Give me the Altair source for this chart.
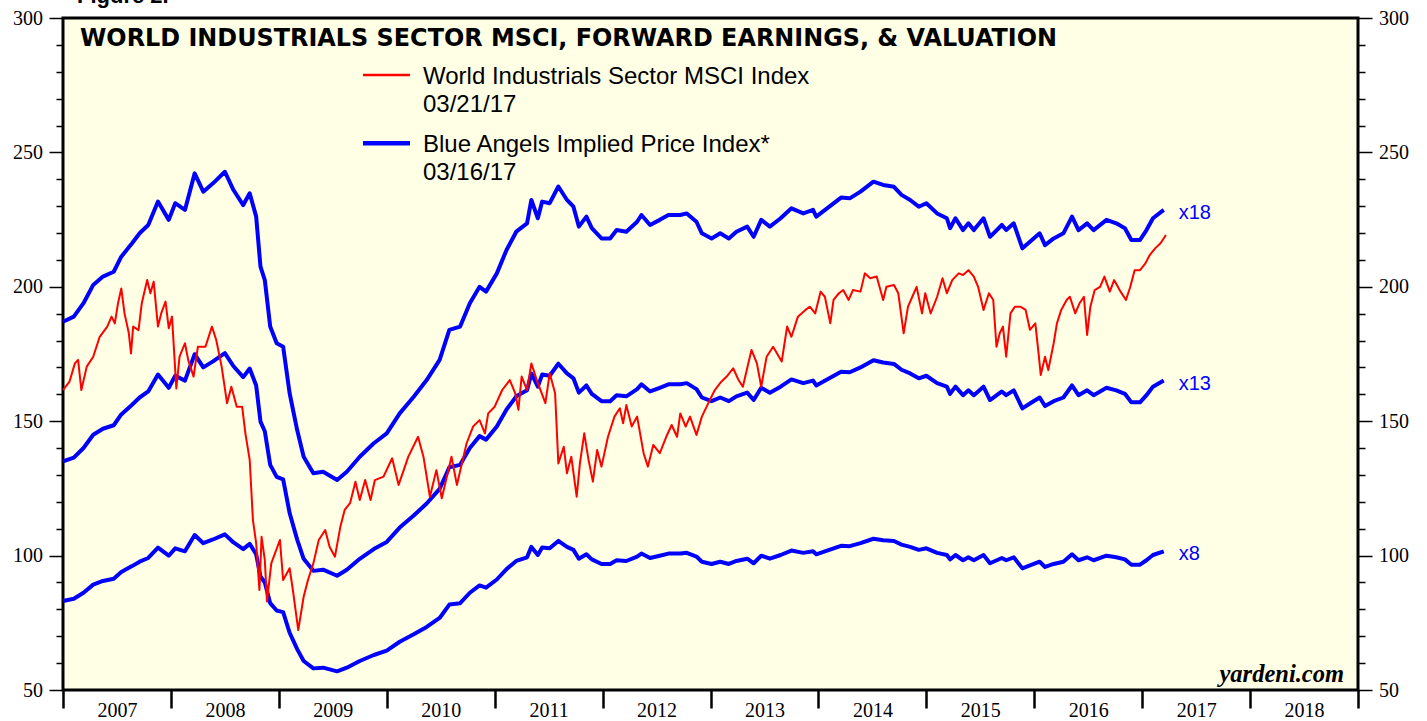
import altair as alt
import pandas as pd

# ---------------- data ----------------
# Blue Angels implied price index at 18x forward earnings (decimal year, level)
blue_t = [2007.00, 2007.10, 2007.19, 2007.28, 2007.37, 2007.47, 2007.54, 2007.64, 2007.71, 2007.79,
          2007.88, 2007.98, 2008.04, 2008.13, 2008.22, 2008.30, 2008.39, 2008.50, 2008.58, 2008.67,
          2008.73, 2008.79, 2008.83, 2008.87, 2008.92, 2008.98, 2009.04, 2009.10, 2009.17, 2009.23,
          2009.32, 2009.41, 2009.54, 2009.63, 2009.75, 2009.88, 2010.00, 2010.12, 2010.25, 2010.37,
          2010.49, 2010.58, 2010.68, 2010.77, 2010.86, 2010.92, 2011.02, 2011.11, 2011.20, 2011.30,
          2011.34, 2011.40, 2011.44, 2011.51, 2011.59, 2011.67, 2011.73, 2011.78, 2011.85, 2011.90,
          2011.99, 2012.07, 2012.13, 2012.22, 2012.32, 2012.36, 2012.44, 2012.53, 2012.61, 2012.72,
          2012.78, 2012.87, 2012.92, 2013.01, 2013.09, 2013.17, 2013.24, 2013.34, 2013.40, 2013.47,
          2013.55, 2013.65, 2013.75, 2013.86, 2013.95, 2013.98, 2014.08, 2014.21, 2014.29, 2014.39,
          2014.51, 2014.60, 2014.70, 2014.77, 2014.85, 2014.93, 2015.00, 2015.10, 2015.19, 2015.22,
          2015.27, 2015.34, 2015.39, 2015.44, 2015.53, 2015.59, 2015.70, 2015.74, 2015.81, 2015.89,
          2015.96, 2016.05, 2016.10, 2016.18, 2016.27, 2016.35, 2016.41, 2016.49, 2016.55, 2016.67,
          2016.76, 2016.84, 2016.90, 2016.98, 2017.04, 2017.10, 2017.20]
blue_x18 = [187.0, 188.9, 193.9, 200.7, 203.8, 205.6, 211.2, 216.2, 219.9, 223.0,
            231.7, 224.9, 231.1, 228.6, 242.2, 235.4, 238.5, 242.8, 236.0, 230.4,
            234.8, 226.1, 207.5, 202.5, 185.2, 179.0, 177.7, 160.4, 146.7, 136.8,
            130.6, 131.2, 128.1, 131.2, 136.8, 141.8, 145.5, 152.9, 159.1, 165.3,
            172.8, 184.0, 185.2, 193.9, 200.0, 198.2, 205.0, 213.7, 220.5, 223.6,
            232.3, 225.5, 231.7, 231.1, 237.3, 232.3, 229.8, 222.4, 226.1, 221.8,
            218.0, 218.0, 221.1, 220.5, 224.2, 226.7, 223.0, 224.9, 226.7, 226.7,
            227.3, 224.2, 219.9, 218.0, 219.9, 218.0, 220.5, 222.4, 218.6, 224.9,
            222.4, 225.5, 229.2, 227.3, 228.6, 226.1, 229.2, 233.2, 232.9, 235.4,
            239.1, 237.9, 237.2, 234.2, 232.3, 229.8, 231.1, 227.3, 225.5, 221.8,
            225.5, 221.1, 223.6, 221.1, 225.5, 218.6, 223.0, 221.1, 223.6, 214.3,
            216.8, 219.9, 215.5, 218.0, 219.9, 226.1, 221.1, 223.6, 221.1, 224.9,
            223.6, 221.8, 217.4, 217.4, 221.1, 225.5, 228.6]
multiples = [18, 13, 8]

# World Industrials Sector MSCI index (decimal year, level)
red_t = [2007.00, 2007.06, 2007.11, 2007.14, 2007.17, 2007.22, 2007.28, 2007.34, 2007.41, 2007.45,
         2007.48, 2007.51, 2007.54, 2007.57, 2007.61, 2007.63, 2007.65, 2007.70, 2007.73, 2007.78,
         2007.81, 2007.84, 2007.88, 2007.91, 2007.95, 2007.98, 2008.01, 2008.05, 2008.08, 2008.13,
         2008.16, 2008.21, 2008.25, 2008.32, 2008.38, 2008.42, 2008.47, 2008.52, 2008.56, 2008.61,
         2008.66, 2008.69, 2008.73, 2008.76, 2008.79, 2008.82, 2008.84, 2008.87, 2008.89, 2008.93,
         2009.01, 2009.04, 2009.10, 2009.13, 2009.18, 2009.23, 2009.27, 2009.32, 2009.37, 2009.43,
         2009.47, 2009.52, 2009.57, 2009.61, 2009.66, 2009.71, 2009.75, 2009.80, 2009.85, 2009.89,
         2009.97, 2010.05, 2010.11, 2010.20, 2010.29, 2010.34, 2010.40, 2010.46, 2010.51, 2010.60,
         2010.65, 2010.74, 2010.80, 2010.86, 2010.91, 2010.94, 2011.00, 2011.07, 2011.14, 2011.19,
         2011.22, 2011.25, 2011.30, 2011.34, 2011.39, 2011.47, 2011.51, 2011.56, 2011.59, 2011.64,
         2011.67, 2011.71, 2011.76, 2011.79, 2011.83, 2011.87, 2011.91, 2011.95, 2011.99, 2012.05,
         2012.11, 2012.16, 2012.19, 2012.22, 2012.27, 2012.32, 2012.38, 2012.42, 2012.47, 2012.53,
         2012.59, 2012.64, 2012.69, 2012.72, 2012.77, 2012.81, 2012.87, 2012.92, 2012.98, 2013.04,
         2013.10, 2013.15, 2013.21, 2013.26, 2013.30, 2013.35, 2013.38, 2013.43, 2013.47, 2013.52,
         2013.58, 2013.66, 2013.71, 2013.75, 2013.81, 2013.88, 2013.92, 2013.97, 2014.02, 2014.06,
         2014.11, 2014.14, 2014.19, 2014.23, 2014.28, 2014.32, 2014.39, 2014.43, 2014.48, 2014.54,
         2014.60, 2014.63, 2014.70, 2014.74, 2014.79, 2014.83, 2014.87, 2014.91, 2014.96, 2014.99,
         2015.04, 2015.10, 2015.15, 2015.19, 2015.24, 2015.30, 2015.34, 2015.39, 2015.44, 2015.48,
         2015.53, 2015.58, 2015.62, 2015.65, 2015.68, 2015.71, 2015.74, 2015.78, 2015.82, 2015.87,
         2015.92, 2015.96, 2016.01, 2016.04, 2016.06, 2016.10, 2016.13, 2016.18, 2016.21, 2016.25,
         2016.30, 2016.33, 2016.38, 2016.42, 2016.46, 2016.49, 2016.52, 2016.56, 2016.61, 2016.65,
         2016.70, 2016.74, 2016.80, 2016.85, 2016.89, 2016.93, 2016.98, 2017.03, 2017.07, 2017.12,
         2017.17, 2017.21, 2017.22]
red_v = [161.6, 164.7, 171.5, 172.8, 161.6, 170.3, 174.0, 181.4, 185.2, 188.9,
         186.4, 193.9, 199.4, 190.1, 182.7, 175.2, 185.2, 183.9, 193.9, 202.5,
         197.6, 201.9, 185.2, 190.1, 194.5, 184.6, 188.9, 162.2, 174.0, 179.0,
         172.8, 166.6, 177.7, 177.7, 185.2, 180.2, 170.3, 156.7, 162.8, 155.4,
         155.4, 145.5, 135.6, 113.2, 104.6, 87.2, 107.0, 98.4, 82.9, 97.1,
         105.8, 90.9, 95.3, 87.2, 72.3, 84.7, 90.9, 97.1, 105.8, 109.5,
         103.3, 99.6, 110.7, 117.0, 119.5, 127.5, 120.7, 128.1, 120.7, 128.1,
         129.4, 136.2, 126.3, 136.8, 144.2, 136.8, 121.9, 131.8, 121.3, 136.8,
         126.3, 141.8, 148.0, 150.4, 145.5, 152.9, 155.4, 161.6, 165.3, 160.4,
         154.2, 166.6, 161.6, 171.5, 165.3, 156.7, 167.8, 160.4, 134.3, 140.5,
         130.6, 136.8, 121.9, 134.3, 145.5, 135.6, 127.5, 139.3, 133.1, 144.2,
         151.7, 154.8, 149.2, 156.0, 148.0, 151.7, 138.1, 133.1, 141.2, 138.1,
         144.2, 148.6, 144.2, 152.9, 148.0, 151.7, 144.9, 151.7, 156.7, 161.6,
         164.7, 166.6, 169.7, 165.3, 162.8, 171.5, 176.5, 171.5, 162.8, 174.0,
         177.7, 172.2, 185.2, 181.4, 188.9, 191.4, 192.6, 190.1, 198.2, 196.3,
         186.4, 195.1, 197.6, 198.8, 195.1, 198.8, 198.2, 205.0, 203.2, 203.8,
         195.1, 200.0, 200.7, 197.6, 182.7, 192.6, 196.3, 200.0, 190.1, 197.6,
         190.1, 196.3, 203.2, 197.6, 202.5, 205.0, 204.4, 206.2, 203.8, 200.0,
         191.4, 197.6, 195.1, 177.7, 182.7, 185.2, 174.0, 190.1, 192.6, 192.6,
         191.4, 184.0, 186.4, 175.2, 167.2, 174.0, 169.0, 179.0, 186.4, 191.4,
         195.1, 196.3, 190.1, 193.9, 196.3, 182.1, 192.6, 198.8, 200.0, 203.8,
         198.2, 202.5, 198.2, 195.1, 200.0, 206.2, 206.2, 208.7, 211.8, 214.3,
         216.2, 218.6, 219.3]

year_ticks = list(range(2007, 2020))
y_ticks = list(range(50, 301, 10))

# implied price lines = forward earnings (x18 line / 18) times each multiple
fwd_earnings = [v / 18 for v in blue_x18]
blue_df = pd.DataFrame(
    [{"t": t, "v": e * m, "mult": f"x{m}"} for m in multiples for t, e in zip(blue_t, fwd_earnings)]
)
red_df = pd.DataFrame({"t": red_t, "v": red_v})
end_df = pd.DataFrame({
    "t": [blue_t[-1]] * len(multiples),
    "v": [fwd_earnings[-1] * m for m in multiples],
    "label": [f"x{m}" for m in multiples],
})

# ---------------- styling ----------------
W, H = 1295, 672
BLUE, RED = "#0000FF", "#FF0000"
SERIF, SANS = "Liberation Serif", "Liberation Sans"

xscale = alt.Scale(domain=[2007, 2019], nice=False, zero=False)
yscale = alt.Scale(domain=[50, 300], nice=False, zero=False)

tick_size = {"condition": {"test": "datum.value % 50 === 0", "value": 14}, "value": 7}


def yaxis(orient):
    return alt.Axis(
        orient=orient, values=y_ticks, tickSize=tick_size,
        labelExpr="datum.value % 50 === 0 ? datum.label : ''",
        labelFont=SERIF, labelFontSize=20, labelColor="black", labelPadding=6.5,
        labelOverlap=False, tickColor="black", tickWidth=1.5,
        domain=False, grid=False, title=None,
    )


xaxis = alt.Axis(
    orient="bottom", values=year_ticks, tickSize=18, tickWidth=2.5, tickColor="black",
    labelOffset=54, labelExpr="datum.value < 2019 ? '' + datum.value : ''",
    labelFont=SERIF, labelFontSize=20, labelColor="black", labelPadding=-8,
    labelFlush=False, labelOverlap=False, domain=False, grid=False, title=None,
)

blue = alt.Chart(blue_df).mark_line(color=BLUE, strokeWidth=4, strokeJoin="round").encode(
    x=alt.X("t:Q", scale=xscale, axis=xaxis),
    y=alt.Y("v:Q", scale=yscale, axis=yaxis("left")),
    detail="mult:N",
)

red = alt.Chart(red_df).mark_line(color=RED, strokeWidth=2, strokeJoin="round").encode(
    x=alt.X("t:Q", scale=xscale, axis=None),
    y=alt.Y("v:Q", scale=yscale, axis=yaxis("right")),
)

ends = alt.Chart(end_df).mark_text(
    align="left", baseline="middle", dx=15, dy=3, font=SANS, fontSize=20, color=BLUE
).encode(
    x=alt.X("t:Q", scale=xscale, axis=None),
    y=alt.Y("v:Q", scale=yscale, axis=None),
    text="label:N",
)

one = alt.Data(values=[{}])


def label(txt, x, y, **kw):
    style = dict(align="left", baseline="alphabetic", font=SANS, fontSize=24, color="black")
    style.update(kw)
    return alt.Chart(one).mark_text(**style).encode(
        x=alt.value(x), y=alt.value(y), text=alt.value(txt)
    )


def legend_line(color, width, y):
    return alt.Chart(one).mark_rule(color=color, strokeWidth=width).encode(
        x=alt.value(300), x2=alt.value(347), y=alt.value(y)
    )


annotations = [
    label("Figure 2.", 14, -14.7, fontWeight="bold", fontSize=22),
    label("WORLD INDUSTRIALS SECTOR MSCI, FORWARD EARNINGS, & VALUATION", 17, 27.7,
          font="DejaVu Sans", fontWeight="bold", fontSize=23.9),
    legend_line(RED, 2.5, 57),
    label("World Industrials Sector MSCI Index", 360, 65.5),
    label("03/21/17", 360, 93.5),
    legend_line(BLUE, 4.5, 125.3),
    label("Blue Angels Implied Price Index*", 360, 133.5),
    label("03/16/17", 360, 161.5),
    label("yardeni.com", 1281, 664, align="right", font=SERIF, fontSize=24.5,
          fontWeight="bold", fontStyle="italic"),
]

chart = alt.layer(blue, red, ends, *annotations).resolve_axis(
    x="independent", y="independent"
).properties(
    width=W, height=H,
    autosize=alt.AutoSizeParams(type="none"),
    padding={"left": 63, "top": 18, "right": 69, "bottom": 31},
    background="white",
).configure_view(
    fill="#FFFFE6", stroke="black", strokeWidth=3,
)

chart.save("out.html", embed_options={"renderer": "svg", "actions": False})
